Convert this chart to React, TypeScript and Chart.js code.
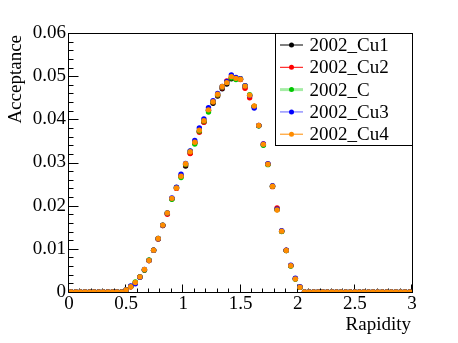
import React, { useEffect, useRef } from "react";
import { Chart, registerables } from "chart.js";

Chart.register(...registerables);

// Bin centres (rapidity)
const rapidity = [
  0.02, 0.06, 0.10, 0.14, 0.18, 0.22, 0.26, 0.30, 0.34, 0.38, 0.42, 0.46,
  0.50, 0.54, 0.58, 0.62, 0.66, 0.70, 0.74, 0.78, 0.82, 0.86, 0.90, 0.94,
  0.98, 1.02, 1.06, 1.10, 1.14, 1.18, 1.22, 1.26, 1.30, 1.34, 1.38, 1.42,
  1.46, 1.50, 1.54, 1.58, 1.62, 1.66, 1.70, 1.74, 1.78, 1.82, 1.86, 1.90,
  1.94, 1.98, 2.02, 2.06, 2.10, 2.14, 2.18, 2.22, 2.26, 2.30, 2.34, 2.38,
  2.42, 2.46, 2.50, 2.54, 2.58, 2.62, 2.66, 2.70, 2.74, 2.78, 2.82, 2.86,
  2.90, 2.94, 2.98,
];

const cu1 = [
  0, 0, 0, 0, 0, 0, 0, 0, 0, 0, 0, 0,
  0.0005, 0.0012, 0.0021, 0.0035, 0.0051, 0.0073, 0.0097, 0.0123, 0.0154, 0.0182, 0.0216, 0.0241,
  0.0268, 0.0292, 0.0322, 0.0346, 0.0372, 0.0394, 0.0421, 0.0437, 0.0454, 0.0471, 0.0482, 0.0494,
  0.0494, 0.0493, 0.0476, 0.0455, 0.0430, 0.0385, 0.0341, 0.0296, 0.0245, 0.0191, 0.0141, 0.0096,
  0.0061, 0.0030, 0.0011,
  0, 0, 0, 0, 0, 0, 0, 0, 0, 0, 0, 0, 0, 0, 0, 0, 0, 0, 0, 0, 0, 0, 0, 0,
];

const cu2 = [
  0, 0, 0, 0, 0, 0, 0, 0, 0, 0, 0, 0,
  0.0005, 0.0012, 0.0021, 0.0035, 0.0051, 0.0073, 0.0097, 0.0123, 0.0154, 0.0180, 0.0216, 0.0240,
  0.0268, 0.0295, 0.0321, 0.0346, 0.0370, 0.0393, 0.0421, 0.0440, 0.0456, 0.0473, 0.0489, 0.0497,
  0.0495, 0.0492, 0.0472, 0.0450, 0.0430, 0.0386, 0.0343, 0.0296, 0.0244, 0.0195, 0.0141, 0.0097,
  0.0061, 0.0031, 0.0011,
  0, 0, 0, 0, 0, 0, 0, 0, 0, 0, 0, 0, 0, 0, 0, 0, 0, 0, 0, 0, 0, 0, 0, 0,
];

const cC = [
  0, 0, 0, 0, 0, 0, 0, 0, 0, 0, 0, 0,
  0.0005, 0.0013, 0.0023, 0.0035, 0.0051, 0.0074, 0.0097, 0.0124, 0.0155, 0.0183, 0.0215, 0.0242,
  0.0265, 0.0296, 0.0326, 0.0343, 0.0373, 0.0396, 0.0417, 0.0441, 0.0457, 0.0475, 0.0486, 0.0496,
  0.0492, 0.0494, 0.0478, 0.0457, 0.0430, 0.0385, 0.0340, 0.0295, 0.0245, 0.0191, 0.0140, 0.0096,
  0.0060, 0.0030, 0.0011,
  0, 0, 0, 0, 0, 0, 0, 0, 0, 0, 0, 0, 0, 0, 0, 0, 0, 0, 0, 0, 0, 0, 0, 0,
];

const cu3 = [
  0, 0, 0, 0, 0, 0, 0, 0, 0, 0, 0, 0,
  0.0005, 0.0014, 0.0019, 0.0034, 0.0052, 0.0073, 0.0097, 0.0124, 0.0155, 0.0183, 0.0218, 0.0243,
  0.0273, 0.0298, 0.0327, 0.0351, 0.0380, 0.0401, 0.0427, 0.0443, 0.0460, 0.0476, 0.0487, 0.0503,
  0.0497, 0.0494, 0.0478, 0.0455, 0.0426, 0.0386, 0.0343, 0.0297, 0.0246, 0.0192, 0.0142, 0.0097,
  0.0062, 0.0032, 0.0012,
  0, 0, 0, 0, 0, 0, 0, 0, 0, 0, 0, 0, 0, 0, 0, 0, 0, 0, 0, 0, 0, 0, 0, 0,
];

const cu4 = [
  0, 0, 0, 0, 0, 0, 0, 0, 0, 0, 0, 0,
  0.0005, 0.0012, 0.0022, 0.0035, 0.0052, 0.0073, 0.0097, 0.0124, 0.0155, 0.0183, 0.0217, 0.0241,
  0.0268, 0.0297, 0.0325, 0.0347, 0.0375, 0.0397, 0.0422, 0.0441, 0.0458, 0.0476, 0.0485, 0.0499,
  0.0495, 0.0493, 0.0477, 0.0456, 0.0431, 0.0386, 0.0342, 0.0296, 0.0245, 0.0190, 0.0141, 0.0096,
  0.0061, 0.0030, 0.0011,
  0, 0, 0, 0, 0, 0, 0, 0, 0, 0, 0, 0, 0, 0, 0, 0, 0, 0, 0, 0, 0, 0, 0, 0,
];

const seriesNames = ["2002_Cu1", "2002_Cu2", "2002_C", "2002_Cu3", "2002_Cu4"];
const seriesValues = [cu1, cu2, cC, cu3, cu4];

const xTickValues = [0, 0.5, 1, 1.5, 2, 2.5, 3];
const xTickLabels = ["0", "0.5", "1", "1.5", "2", "2.5", "3"];
const yTickValues = [0, 0.01, 0.02, 0.03, 0.04, 0.05, 0.06];
const yTickLabels = ["0", "0.01", "0.02", "0.03", "0.04", "0.05", "0.06"];

const xTitle = "Rapidity";
const yTitle = "Acceptance";

// styles
const markerColors = ["#000000", "#ff0000", "#00c800", "#0000ff", "#ff8c00"];
const legendLineColors = ["#000000", "#ff0000", "rgba(0,200,0,0.35)", "rgba(60,60,255,0.55)", "#ff8c00"];
const legendLineWidths = [1, 1, 3, 1.5, 1];

const FONT = "'Liberation Serif', 'DejaVu Serif', serif";

const rootPlugin = {
  id: "rootDecor",
  beforeDatasetsDraw(chart: any) {
    const { ctx, chartArea: a, scales } = chart;
    const x = scales.x;
    const y = scales.y;
    ctx.save();
    // frame
    ctx.strokeStyle = "#000";
    ctx.lineWidth = 1;
    ctx.beginPath();
    ctx.moveTo(a.left - 0.5, a.top + 0.5);
    ctx.lineTo(a.right + 0.5, a.top + 0.5);
    ctx.lineTo(a.right + 0.5, a.bottom + 0.5);
    ctx.stroke();
    ctx.beginPath();
    ctx.moveTo(a.left - 0.5, a.top);
    ctx.lineTo(a.left - 0.5, a.bottom + 0.5);
    ctx.lineTo(a.right + 1, a.bottom + 0.5);
    ctx.stroke();
    // y ticks
    ctx.beginPath();
    for (let k = 0; k <= 30; k++) {
      const v = k * 0.002;
      const py = Math.round(y.getPixelForValue(v)) + 0.5;
      const len = k % 5 === 0 ? 10 : 5;
      ctx.moveTo(a.left - 0.5, py);
      ctx.lineTo(a.left - 0.5 + len, py);
    }
    // x ticks
    for (let k = 0; k <= 30; k++) {
      const v = k * 0.1;
      const px = Math.round(x.getPixelForValue(v)) - 0.5;
      const len = k % 5 === 0 ? 8 : 4;
      ctx.moveTo(px, a.bottom + 0.5);
      ctx.lineTo(px, a.bottom + 0.5 - len);
    }
    ctx.stroke();
    // axis titles
    ctx.fillStyle = "#000";
    ctx.font = `19px ${FONT}`;
    ctx.textAlign = "right";
    ctx.textBaseline = "alphabetic";
    ctx.fillText(xTitle, a.right - 1, 330);
    ctx.save();
    ctx.translate(21, a.top + 2);
    ctx.rotate(-Math.PI / 2);
    ctx.fillText(yTitle, 0, 0);
    ctx.restore();
    ctx.restore();
  },
  afterDatasetsDraw(chart: any) {
    const { ctx, chartArea: a } = chart;
    ctx.save();
    const left = 275.5;
    const top = a.top + 0.5;
    const right = a.right + 0.5;
    const bottom = 145.5;
    ctx.fillStyle = "#fff";
    ctx.fillRect(left, top, right - left, bottom - top);
    ctx.strokeStyle = "#000";
    ctx.lineWidth = 1;
    ctx.strokeRect(left, top, right - left, bottom - top);
    ctx.font = `19px ${FONT}`;
    ctx.textAlign = "left";
    ctx.textBaseline = "alphabetic";
    chart.data.datasets.forEach((ds: any, i: number) => {
      const cy = 45 + 22.3 * i;
      ctx.strokeStyle = legendLineColors[i];
      ctx.lineWidth = legendLineWidths[i];
      ctx.beginPath();
      ctx.moveTo(280, cy);
      ctx.lineTo(303, cy);
      ctx.stroke();
      ctx.fillStyle = markerColors[i];
      ctx.beginPath();
      ctx.arc(291.5, cy, 2.5, 0, Math.PI * 2);
      ctx.fill();
      ctx.fillStyle = "#000";
      ctx.fillText(ds.label, 309.5, cy + 6);
    });
    ctx.restore();
  },
};

export default function App() {
  const ref = useRef<HTMLCanvasElement | null>(null);
  useEffect(() => {
    if (!ref.current) return;
    const chart = new Chart(ref.current, {
      type: "scatter",
      data: {
        datasets: seriesNames.map((name, i) => ({
          label: name,
          data: rapidity.map((r, j) => ({ x: r, y: seriesValues[i][j] })),
          order: seriesNames.length - 1 - i,
          showLine: false,
          pointRadius: 2.7,
          pointHoverRadius: 2.7,
          pointBorderWidth: 0,
          pointBackgroundColor: markerColors[i],
          pointBorderColor: markerColors[i],
          backgroundColor: markerColors[i],
          borderColor: markerColors[i],
        })),
      },
      options: {
        animation: false,
        responsive: true,
        maintainAspectRatio: false,
        events: [],
        layout: { padding: { top: 33, right: 46, left: 0, bottom: 0 } },
        plugins: { legend: { display: false }, tooltip: { enabled: false } },
        scales: {
          x: {
            type: "linear",
            min: 0,
            max: 3,
            grid: { display: false, drawTicks: false },
            border: { display: false },
            afterBuildTicks: (s: any) => {
              s.ticks = xTickValues.map((v) => ({ value: v }));
            },
            afterFit: (s: any) => {
              s.height = 51;
            },
            ticks: {
              autoSkip: false,
              maxRotation: 0,
              padding: 1,
              color: "#000",
              font: { family: FONT, size: 19 },
              callback: (_v: any, i: number) => xTickLabels[i],
            },
          },
          y: {
            type: "linear",
            min: 0,
            max: 0.06,
            grid: { display: false, drawTicks: false },
            border: { display: false },
            afterBuildTicks: (s: any) => {
              s.ticks = yTickValues.map((v) => ({ value: v }));
            },
            afterFit: (s: any) => {
              s.width = 69;
            },
            ticks: {
              autoSkip: false,
              padding: 3,
              color: "#000",
              font: { family: FONT, size: 19 },
              callback: (_v: any, i: number) => yTickLabels[i],
            },
          },
        },
      },
      plugins: [rootPlugin],
    });
    return () => chart.destroy();
  }, []);
  return (
    <div style={{ position: "absolute", left: 0, top: 0, width: 458, height: 343, background: "#fff" }}>
      <canvas ref={ref} />
    </div>
  );
}
